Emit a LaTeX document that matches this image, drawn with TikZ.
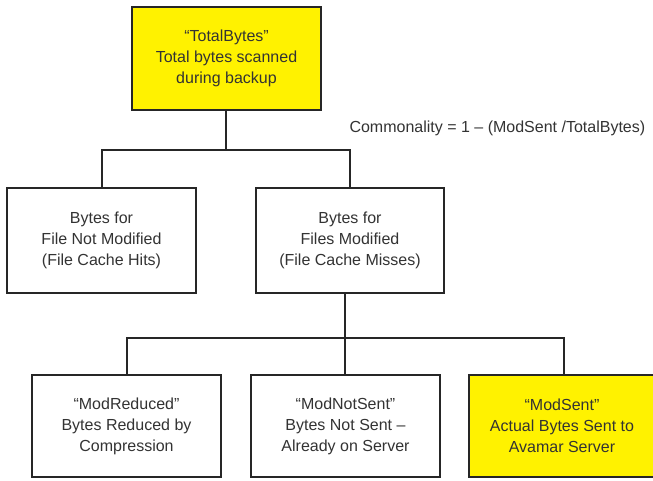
\documentclass[tikz,border=0pt]{standalone}
\usepackage{fontspec}
\setmainfont{Liberation Sans}
\begin{document}
\begin{tikzpicture}[x=1pt,y=-1pt,
  box/.style={draw=black!85,line width=1.6pt},
  hl/.style={box,fill=yellow},
  lbl/.style={align=center,text=black!80,font=\fontsize{16}{21}\selectfont},
  conn/.style={draw=black!85,line width=1.6pt}]
\useasboundingbox (0,0) rectangle (653,480);
\fill[white] (0,0) rectangle (653,480);
% boxes
\draw[hl] (132,7) rectangle (321,110);
\node[lbl] (top) at (226.5,58.5) {``TotalBytes''\\Total bytes scanned\\during backup};
\draw[box] (7,188) rectangle (196,293);
\node[lbl] (hits) at (101.5,240.5) {Bytes for\\File Not Modified\\(File Cache Hits)};
\draw[box] (256,188) rectangle (444,293);
\node[lbl] (miss) at (350,240.5) {Bytes for\\Files Modified\\(File Cache Misses)};
\draw[box] (32,375) rectangle (221,477);
\node[lbl] (red) at (126.5,426) {``ModReduced''\\Bytes Reduced by\\Compression};
\draw[box] (251,375) rectangle (440,477);
\node[lbl] (nots) at (345.5,426) {``ModNotSent''\\Bytes Not Sent --\\Already on Server};
\draw[hl] (469,375) rectangle (656,477);
\node[lbl] (sent) at (562,426) {``ModSent''\\Actual Bytes Sent to\\Avamar Server};
\node[lbl,anchor=west] (comm) at (346,128) {Commonality = 1 -- (ModSent /TotalBytes)};
% connectors
\coordinate (j1) at (226,150);
\coordinate (j2) at (345,338);
\draw[conn] (226,110) -- (j1);
\draw[conn] (102,188) -- (102,150) -- (350,150) -- (350,188);
\draw[conn] (345,293) -- (j2);
\draw[conn] (127,375) -- (127,338) -- (564,338) -- (564,375);
\draw[conn] (j2) -- (345,375);
\end{tikzpicture}
\end{document}
